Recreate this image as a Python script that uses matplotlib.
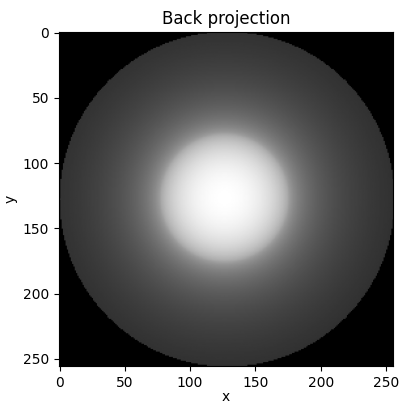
import numpy as np
import matplotlib
matplotlib.use("Agg")
import matplotlib.pyplot as plt

# phantom: one uniform disc, 256x256 grid
n_pix = 256
disc_center = (126.0, 127.0)  # (x, y)
disc_radius = 49.0
n_angles = 180


def back_projection(n, center, radius, n_theta):
    idx = np.arange(n)
    xx, yy = np.meshgrid(idx, idx)
    dx = xx - center[0]
    dy = yy - center[1]
    img = np.zeros((n, n))
    for th in np.linspace(0, np.pi, n_theta, endpoint=False):
        s = dx * np.cos(th) + dy * np.sin(th)
        img += 2 * np.sqrt(np.clip(radius**2 - s**2, 0, None))
    img /= n_theta
    # reconstruction circle
    c = n // 2
    img[(xx - c)**2 + (yy - c)**2 > c**2] = 0
    return img


bp = back_projection(n_pix, disc_center, disc_radius, n_angles)

fig, ax = plt.subplots(figsize=(4.0, 4.05), dpi=100)
ax.imshow(bp, cmap='gray')
ax.set_title('Back projection')
ax.set_xlabel('x', labelpad=0)
ax.set_ylabel('y')
fig.subplots_adjust(left=0.145, right=0.985, top=0.921, bottom=0.096)
fig.savefig('out.png')
